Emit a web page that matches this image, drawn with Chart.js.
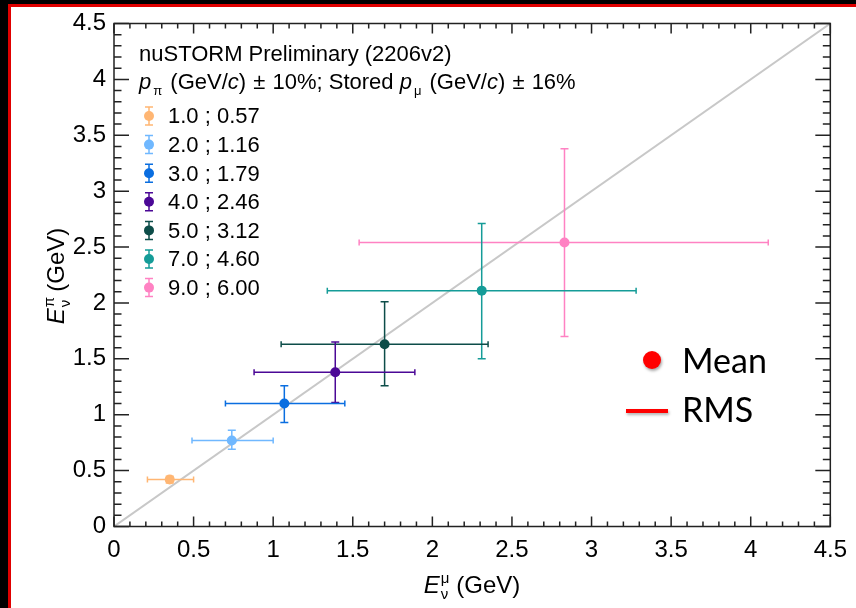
<!DOCTYPE html>
<html>
<head>
<meta charset="utf-8">
<script src="https://cdn.jsdelivr.net/npm/chart.js@4.4.1/dist/chart.umd.min.js"></script>
<style>
  html, body { margin: 0; padding: 0; background: #000; width: 856px; height: 608px; overflow: hidden; }
  #sheet { position: absolute; left: 8px; top: 4px; right: 0; bottom: 0; background: #fff;
           border-left: 3px solid #e00000; border-top: 3px solid #e00000; }
  #chart { position: absolute; left: 0; top: 0; }
  .txt { position: absolute; font-family: 'Liberation Sans', Arial, sans-serif; font-size: 22px;
         color: #000; white-space: nowrap; line-height: normal; }
  .sb { position: relative; top: 6px; font-size: 13px; margin: 0 2px 0 2px; }
  .pm { margin: 0 1px; }
  .ss { display: inline-block; position: relative; width: 10px; height: 0; }
  .ss .u, .ss .d { position: absolute; left: 1px; font-size: 15px; line-height: normal; }
  .ss .u { top: -24px; }
  .ss .d { top: -8px; }
  .note { position: absolute; font-family: Lato, sans-serif; font-size: 34px; color: #000;
          line-height: normal; white-space: nowrap; }
</style>
</head>
<body>
<div id="sheet"></div>
<canvas id="chart" width="856" height="608"></canvas>

<div class="txt" style="left:139px; top:41px;">nuSTORM Preliminary (2206v2)</div>
<div class="txt" style="left:139px; top:69px;"><i>p</i><span class="sb">&pi;</span> (GeV/<i>c</i>) <span class="pm">&plusmn;</span> 10%; Stored <i>p</i><span class="sb">&mu;</span> (GeV/<i>c</i>) <span class="pm">&plusmn;</span> 16%</div>
<div id="legend"></div>

<div class="txt" style="left:372px; top:571px; width:200px; text-align:center; font-size:24px;"><i>E</i><span class="ss"><span class="u">&mu;</span><span class="d">&nu;</span></span> (GeV)</div>
<div class="txt" style="left:-44px; top:262px; width:200px; text-align:center; font-size:24px; transform:rotate(-90deg);"><i>E</i><span class="ss"><span class="u">&pi;</span><span class="d">&nu;</span></span> (GeV)</div>

<div style="position:absolute; left:643px; top:351px; width:18px; height:18px; border-radius:50%; background:#ff0000; box-shadow:1px 2px 3px rgba(0,0,0,0.35);"></div>
<div class="note" style="left:682px; top:339px;">Mean</div>
<div style="position:absolute; left:626px; top:409px; width:42px; height:4px; background:#ff0000; box-shadow:1px 2px 3px rgba(0,0,0,0.3);"></div>
<div class="note" style="left:682px; top:388px;">RMS</div>

<script>
// pion momentum ; stored muon momentum (GeV/c)
const seriesLabels = ['1.0 ; 0.57', '2.0 ; 1.16', '3.0 ; 1.79', '4.0 ; 2.46', '5.0 ; 3.12', '7.0 ; 4.60', '9.0 ; 6.00'];

// mean neutrino energy from muon decay (x) and pion decay (y), GeV
const meanMu = [0.35, 0.74, 1.07, 1.39, 1.70, 2.31, 2.83];
const meanPi = [0.42, 0.77, 1.10, 1.38, 1.63, 2.11, 2.54];

// RMS band edges
const rmsMuLow  = [0.21, 0.49, 0.70, 0.88, 1.05, 1.34, 1.54];
const rmsMuHigh = [0.50, 1.00, 1.45, 1.89, 2.35, 3.28, 4.11];
const rmsPiLow  = [0.39, 0.69, 0.93, 1.11, 1.26, 1.50, 1.70];
const rmsPiHigh = [0.45, 0.86, 1.26, 1.65, 2.01, 2.71, 3.38];

// y = x reference line
const diagonal = [0, 4.5];

const axisMin = 0;
const axisMax = 4.5;
const majorStep = 0.5;

const seriesColors = ['#ffb673', '#70b8ff', '#0a6ee0', '#4b0896', '#0d4d49', '#159c98', '#ff82c3'];

// legend text
const legendBox = document.getElementById('legend');
seriesLabels.forEach((lab, i) => {
  const d = document.createElement('div');
  d.className = 'txt';
  d.style.left = '168px';
  d.style.top = (103.4 + i * 28.6) + 'px';
  d.textContent = lab;
  legendBox.appendChild(d);
});

const datasets = [];
datasets.push({
  data: diagonal.map(v => ({ x: v, y: v })),
  showLine: true,
  borderColor: '#c8c8c8',
  borderWidth: 2,
  pointRadius: 0,
  order: 3
});
seriesLabels.forEach((lab, i) => {
  const c = seriesColors[i];
  datasets.push({
    data: [{ x: rmsMuLow[i], y: meanPi[i] }, { x: rmsMuHigh[i], y: meanPi[i] }],
    showLine: true,
    borderColor: c,
    borderWidth: 1.5,
    pointStyle: 'line',
    rotation: 90,
    pointRadius: 3,
    pointBorderColor: c,
    pointBorderWidth: 1.5,
    order: 2
  });
  datasets.push({
    data: [{ x: meanMu[i], y: rmsPiLow[i] }, { x: meanMu[i], y: rmsPiHigh[i] }],
    showLine: true,
    borderColor: c,
    borderWidth: 1.5,
    pointStyle: 'line',
    rotation: 0,
    pointRadius: 4,
    pointBorderColor: c,
    pointBorderWidth: 1.5,
    order: 2
  });
  datasets.push({
    label: lab,
    data: [{ x: meanMu[i], y: meanPi[i] }],
    pointRadius: 5,
    backgroundColor: c,
    borderWidth: 0,
    order: 1
  });
});

// ROOT style frame with inward ticks on all four sides
const frameTicks = {
  id: 'frameTicks',
  afterDatasetsDraw(chart) {
    const { ctx, chartArea: a, scales } = chart;
    const xs = scales.x, ys = scales.y;
    const minor = majorStep / 5;
    ctx.save();
    ctx.strokeStyle = '#222';
    ctx.lineWidth = 1.5;
    ctx.strokeRect(a.left, a.top, a.right - a.left, a.bottom - a.top);
    ctx.beginPath();
    const n = Math.round((axisMax - axisMin) / minor);
    for (let i = 0; i <= n; i++) {
      const v = axisMin + i * minor;
      const major = i % 5 === 0;
      const px = xs.getPixelForValue(v);
      const lx = major ? 10 : 5;
      ctx.moveTo(px, a.bottom); ctx.lineTo(px, a.bottom - lx);
      ctx.moveTo(px, a.top); ctx.lineTo(px, a.top + lx);
      const py = ys.getPixelForValue(v);
      const ly = major ? 15 : 7.5;
      ctx.moveTo(a.left, py); ctx.lineTo(a.left + ly, py);
      ctx.moveTo(a.right, py); ctx.lineTo(a.right - ly, py);
    }
    ctx.stroke();
    ctx.restore();
  }
};

const legendMarks = {
  id: 'legendMarks',
  afterDraw(chart) {
    const ctx = chart.ctx;
    seriesColors.forEach((c, i) => {
      const cx = 149, cy = 116 + i * 28.6;
      ctx.save();
      ctx.strokeStyle = c;
      ctx.fillStyle = c;
      ctx.lineWidth = 1.5;
      ctx.beginPath();
      ctx.moveTo(cx, cy - 9); ctx.lineTo(cx, cy + 9);
      ctx.moveTo(cx - 4, cy - 9); ctx.lineTo(cx + 4, cy - 9);
      ctx.moveTo(cx - 4, cy + 9); ctx.lineTo(cx + 4, cy + 9);
      ctx.stroke();
      ctx.beginPath();
      ctx.arc(cx, cy, 5, 0, Math.PI * 2);
      ctx.fill();
      ctx.restore();
    });
  }
};

const tickFont = { family: "'Liberation Sans', Arial, sans-serif", size: 24 };

new Chart(document.getElementById('chart').getContext('2d'), {
  type: 'scatter',
  data: { datasets },
  options: {
    responsive: false,
    animation: false,
    events: [],
    layout: { padding: { left: 0, top: 23.5, right: 24.5, bottom: 0 } },
    plugins: { legend: { display: false }, tooltip: { enabled: false } },
    scales: {
      x: {
        type: 'linear', min: axisMin, max: axisMax,
        grid: { display: false, drawTicks: false },
        border: { display: false },
        ticks: { stepSize: majorStep, font: tickFont, color: '#000', padding: 9, maxRotation: 0, autoSkip: false,
                 callback: v => String(v) },
        afterFit: s => { s.height = 81.5; }
      },
      y: {
        type: 'linear', min: axisMin, max: axisMax,
        grid: { display: false, drawTicks: false },
        border: { display: false },
        ticks: { stepSize: majorStep, font: tickFont, color: '#000', padding: 8, autoSkip: false,
                 callback: v => String(v) },
        afterFit: s => { s.width = 114; }
      }
    }
  },
  plugins: [frameTicks, legendMarks]
});
</script>
</body>
</html>
